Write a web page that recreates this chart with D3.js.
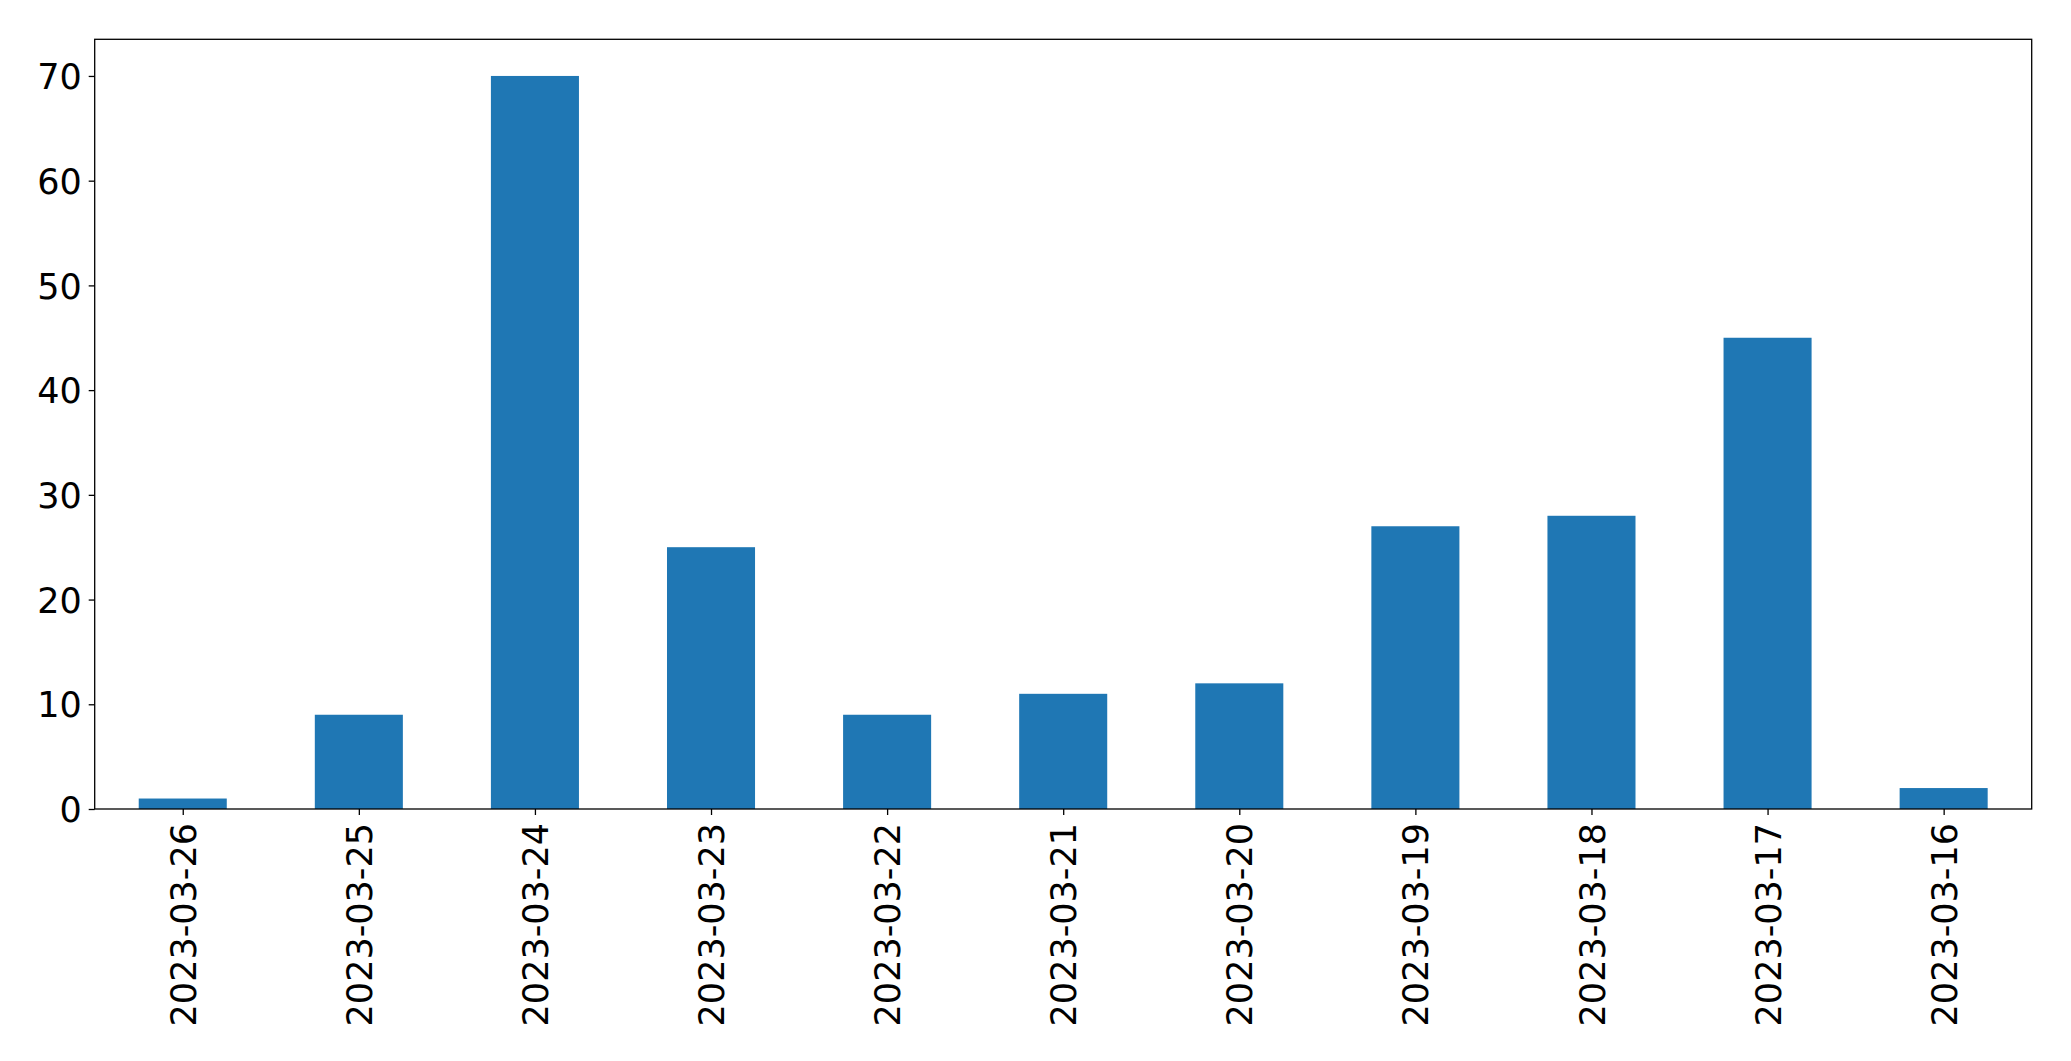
<!DOCTYPE html>
<meta charset="utf-8">
<style>
    body { margin: 0; background: #fff; }
    .axis text { font-family: "DejaVu Sans", sans-serif; font-size: 35px; fill: #000; }
    .axis line { stroke: #000; stroke-width: 1.3; }
    .axis path { display: none; }
</style>
<body>
<svg></svg>
</body>
<script src="https://d3js.org/d3.v7.min.js"></script>
<script>
    // data
    var dates = ["2023-03-26", "2023-03-25", "2023-03-24", "2023-03-23", "2023-03-22", "2023-03-21",
        "2023-03-20", "2023-03-19", "2023-03-18", "2023-03-17", "2023-03-16"];
    var counts = [1, 9, 70, 25, 9, 11, 12, 27, 28, 45, 2];
    var yTicks = [0, 10, 20, 30, 40, 50, 60, 70];

    var width = 2071, height = 1061;
    var margin = {left: 94.7, right: 2031.7, top: 39.3, bottom: 809};

    var svg = d3.select("svg")
        .attr("width", width)
        .attr("height", height);

    // matplotlib style: categories at 0..n-1, limits -0.5..n-0.5
    var x = d3.scaleLinear()
        .domain([-0.5, dates.length - 0.5])
        .range([margin.left, margin.right]);

    var y = d3.scaleLinear()
        .domain([0, d3.max(counts) * 1.05])
        .range([margin.bottom, margin.top]);

    var barW = x(0.25) - x(-0.25);

    svg.append("g")
        .selectAll("rect")
        .data(counts)
        .enter().append("rect")
        .attr("x", function (d, i) { return x(i) - barW / 2; })
        .attr("y", function (d) { return y(d); })
        .attr("width", barW)
        .attr("height", function (d) { return y(0) - y(d); })
        .style("fill", "#1f77b4");

    // y axis
    svg.append("g")
        .attr("class", "axis")
        .attr("transform", "translate(" + margin.left + ",0)")
        .call(d3.axisLeft(y).tickValues(yTicks).tickSize(6).tickPadding(7).tickFormat(d3.format("d")))
        .selectAll("text")
        .attr("dy", "0.36em");

    // x axis, labels turned upright
    var xAxis = svg.append("g")
        .attr("class", "axis")
        .attr("transform", "translate(0," + margin.bottom + ")")
        .call(d3.axisBottom(x).tickValues(d3.range(dates.length)).tickSize(6)
            .tickFormat(function (i) { return dates[i]; }));

    xAxis.selectAll("text")
        .attr("transform", "rotate(-90)")
        .attr("x", -14)
        .attr("y", 0)
        .attr("dy", "0.36em")
        .style("text-anchor", "end");

    // frame
    svg.append("rect")
        .attr("x", margin.left)
        .attr("y", margin.top)
        .attr("width", margin.right - margin.left)
        .attr("height", margin.bottom - margin.top)
        .style("fill", "none")
        .style("stroke", "#000")
        .style("stroke-width", 1.3);
</script>
</html>
